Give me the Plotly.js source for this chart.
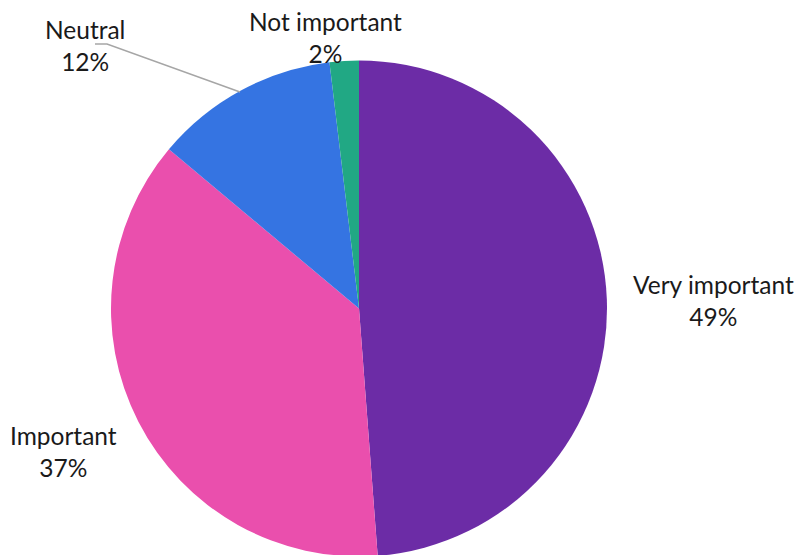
<!DOCTYPE html>
<html>
<head>
<meta charset="utf-8">
<script src="https://cdn.plot.ly/plotly-3.0.1.min.js"></script>
<style>html,body{margin:0;padding:0;background:#fff;overflow:hidden}</style>
</head>
<body>
<div id="chart"></div>
<script>
const categories = ["Very important", "Important", "Neutral", "Not important"];
const values = [48.8, 37.3, 12.0, 1.9];
const percentLabels = ["49%", "37%", "12%", "2%"];
const colors = ["#6C2CA6", "#EA4FAD", "#3574E2", "#21A884"];

const W = 798, H = 560;
const labelPx = [[713, 300], [63, 451], [85, 45], [325, 38]];
const px = (x) => x / W;
const py = (y) => (H - y) / H;

const annotations = categories.map((c, i) => ({
  x: px(labelPx[i][0]), y: py(labelPx[i][1]), xref: "paper", yref: "paper",
  xanchor: "center", yanchor: "middle", showarrow: false,
  text: c + "<br>" + percentLabels[i],
  font: {family: "Lato, 'Open Sans', sans-serif", size: 24.5, color: "#1a1a1a"}
}));

const data = [{
  type: "pie",
  labels: categories,
  values: values,
  sort: false,
  direction: "clockwise",
  rotation: 0,
  textinfo: "none",
  hoverinfo: "label+percent",
  marker: {colors: colors, line: {width: 0}},
  domain: {x: [111 / W, 607 / W], y: [3.5 / H, 499.5 / H]},
  showlegend: false
}];

const layout = {
  width: W, height: H,
  margin: {l: 0, r: 0, t: 0, b: 0},
  paper_bgcolor: "#ffffff",
  showlegend: false,
  annotations: annotations,
  shapes: [{
    type: "path", xref: "paper", yref: "paper",
    path: "M " + px(95) + "," + py(44) + " L " + px(107) + "," + py(44) + " L " + px(240) + "," + py(92),
    line: {color: "#A6A6A6", width: 1.5}
  }]
};

Plotly.newPlot("chart", data, layout, {displayModeBar: false, staticPlot: true});
</script>
</body>
</html>
